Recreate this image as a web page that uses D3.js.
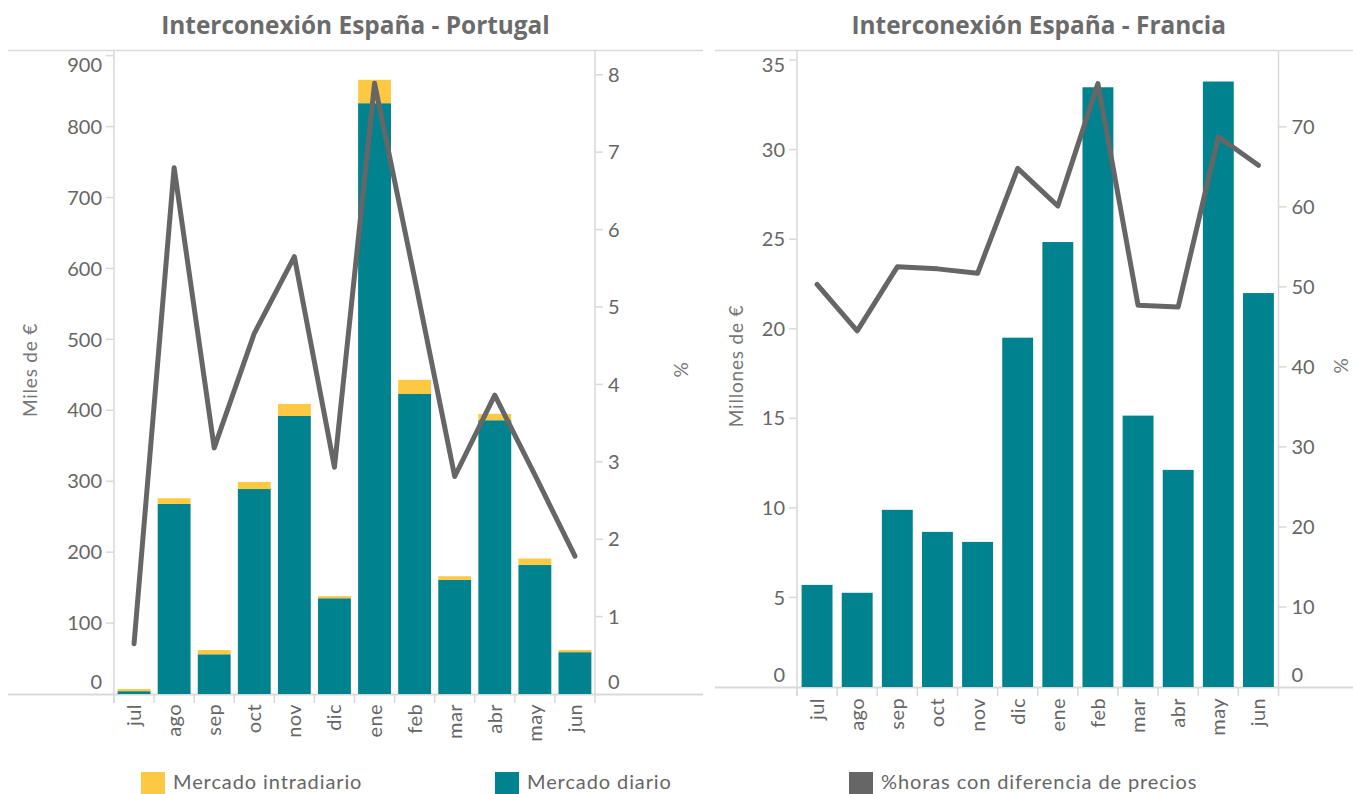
<!DOCTYPE html>
<html>
<head>
<meta charset="utf-8">
<script src="https://cdn.jsdelivr.net/npm/d3@7"></script>
<style>
  html, body { margin: 0; padding: 0; background: #fff; }
  svg { display: block; font-family: Lato, "Noto Sans", sans-serif; }
</style>
</head>
<body>
<svg id="chart" width="1353" height="794"></svg>
<script>
// Monthly categories (julio a junio)
const months = ["jul", "ago", "sep", "oct", "nov", "dic", "ene", "feb", "mar", "abr", "may", "jun"];

// España - Portugal: congestion rents in thousands of euros, and % of hours with price difference
const ptDiario = [4, 268, 56, 289, 392, 135, 833, 423, 161, 386, 182, 59];
const ptIntradiario = [3, 8, 6, 10, 17, 3, 33, 20, 5, 9, 9, 3];
const ptPct = [0.65, 6.8, 3.18, 4.66, 5.65, 2.93, 7.89, 5.37, 2.81, 3.86, 2.83, 1.78];

// España - Francia: congestion rents in millions of euros, and % of hours with price difference
const frDiario = [5.7, 5.26, 9.89, 8.66, 8.1, 19.5, 24.84, 33.48, 15.15, 12.12, 33.8, 21.99];
const frPct = [50.3, 44.5, 52.5, 52.25, 51.7, 64.8, 60.1, 75.4, 47.7, 47.5, 68.75, 65.2];

// Tick values for each axis
const ptLeftTicks = [0, 100, 200, 300, 400, 500, 600, 700, 800, 900];
const ptRightTicks = [0, 1, 2, 3, 4, 5, 6, 7, 8];
const frLeftTicks = [0, 5, 10, 15, 20, 25, 30, 35];
const frRightTicks = [0, 10, 20, 30, 40, 50, 60, 70];

const COLORS = {
  diario: "#00838f",
  intradiario: "#fdc943",
  line: "#666666",
  axis: "#d9d9d9",
  text: "#666666",
  title: "#6b6b6b"
};

const svg = d3.select("#chart");

function drawPanel(cfg) {
  const g = svg.append("g");
  const { x0, x1, yTop, yBase } = cfg;

  const x = d3.scaleBand()
    .domain(months)
    .range([x0, x1])
    .paddingInner(cfg.pad)
    .paddingOuter(cfg.pad / 2);

  const yL = d3.scaleLinear().domain([0, cfg.leftMax]).range([yBase, yTop]);
  const yR = d3.scaleLinear().domain([0, cfg.rightMax]).range([yBase, yTop]);

  // frame lines: top rule, baseline, both value axes
  g.append("line").attr("x1", cfg.frameL).attr("x2", cfg.frameR)
    .attr("y1", yTop + 0.5).attr("y2", yTop + 0.5)
    .attr("stroke", COLORS.axis).attr("stroke-width", 1.5);
  g.append("line").attr("x1", cfg.frameL).attr("x2", cfg.frameR)
    .attr("y1", yBase + 0.5).attr("y2", yBase + 0.5)
    .attr("stroke", COLORS.axis).attr("stroke-width", 2);
  [x0, x1].forEach(px => {
    g.append("line").attr("x1", px).attr("x2", px)
      .attr("y1", yTop).attr("y2", yBase + 9)
      .attr("stroke", COLORS.axis).attr("stroke-width", 1.5);
  });

  // category separators below the baseline
  const step = x.step();
  months.forEach((m, i) => {
    const px = x0 + i * step;
    g.append("line").attr("x1", px).attr("x2", px)
      .attr("y1", yBase).attr("y2", yBase + 9)
      .attr("stroke", COLORS.axis).attr("stroke-width", 1.5);
  });

  // month labels, rotated
  g.selectAll("text.month").data(months).join("text")
    .attr("class", "month")
    .attr("transform", d => `translate(${x(d) + x.bandwidth() / 2 + 7},${cfg.labelTop}) rotate(-90)`)
    .attr("text-anchor", "end")
    .attr("font-size", 20)
    .attr("letter-spacing", 0.4)
    .attr("fill", COLORS.text)
    .text(d => d);

  // value axis ticks and labels (labels kept inside the plot's vertical extent)
  const clamp = y => Math.max(yTop + 15, Math.min(yBase - 12.5, y));
  cfg.leftTicks.forEach(v => {
    const py = yL(v);
    if (v !== 0) {
      g.append("line").attr("x1", x0 - 8).attr("x2", x0)
        .attr("y1", py).attr("y2", py)
        .attr("stroke", COLORS.axis).attr("stroke-width", 1.5);
    }
    g.append("text").attr("x", x0 - 12).attr("y", clamp(py))
      .attr("dy", "0.36em").attr("text-anchor", "end")
      .attr("font-size", 20).attr("fill", COLORS.text)
      .text(v);
  });
  cfg.rightTicks.forEach(v => {
    const py = yR(v);
    if (v !== 0) {
      g.append("line").attr("x1", x1).attr("x2", x1 + 8)
        .attr("y1", py).attr("y2", py)
        .attr("stroke", COLORS.axis).attr("stroke-width", 1.5);
    }
    g.append("text").attr("x", x1 + 13).attr("y", clamp(py))
      .attr("dy", "0.36em").attr("text-anchor", "start")
      .attr("font-size", 20).attr("fill", COLORS.text)
      .text(v);
  });

  // axis titles
  g.append("text")
    .attr("transform", `translate(${cfg.leftTitleX},${cfg.titleY}) rotate(-90)`)
    .attr("text-anchor", "middle").attr("font-size", 19).attr("letter-spacing", 0.8)
    .attr("fill", "#777")
    .text(cfg.leftTitle);
  g.append("text")
    .attr("transform", `translate(${cfg.rightTitleX},${cfg.titleY}) rotate(-90)`)
    .attr("text-anchor", "middle").attr("font-size", 19).attr("fill", "#777")
    .text("%");

  // stacked bars: daily market at the bottom, intraday on top
  const rows = months.map((m, i) => ({
    m,
    diario: cfg.diario[i],
    intra: cfg.intra ? cfg.intra[i] : 0
  }));
  g.selectAll("rect.diario").data(rows).join("rect")
    .attr("class", "diario")
    .attr("x", d => x(d.m)).attr("width", x.bandwidth())
    .attr("y", d => yL(d.diario)).attr("height", d => yL(0) - yL(d.diario))
    .attr("fill", COLORS.diario);
  if (cfg.intra) {
    g.selectAll("rect.intra").data(rows).join("rect")
      .attr("class", "intra")
      .attr("x", d => x(d.m)).attr("width", x.bandwidth())
      .attr("y", d => yL(d.diario + d.intra)).attr("height", d => yL(d.diario) - yL(d.diario + d.intra))
      .attr("fill", COLORS.intradiario);
  }

  // % hours with price difference
  const line = d3.line()
    .x((d, i) => x(months[i]) + x.bandwidth() / 2)
    .y(d => yR(d));
  g.append("path").datum(cfg.pct)
    .attr("d", line)
    .attr("fill", "none")
    .attr("stroke", COLORS.line)
    .attr("stroke-width", 5)
    .attr("stroke-linejoin", "round")
    .attr("stroke-linecap", "round");

  // panel title
  svg.append("text")
    .attr("x", (x0 + x1) / 2 + 1).attr("y", 34)
    .attr("text-anchor", "middle")
    .attr("font-family", "'Open Sans', Lato, sans-serif")
    .attr("font-size", 24.4).attr("font-weight", "bold")
    .attr("fill", COLORS.title)
    .text(cfg.title);
}

drawPanel({
  title: "Interconexión España - Portugal",
  x0: 114, x1: 595, yTop: 50, yBase: 694,
  frameL: 8, frameR: 703,
  pad: 0.18,
  leftMax: 908, rightMax: 8.32,
  leftTicks: ptLeftTicks, rightTicks: ptRightTicks,
  diario: ptDiario, intra: ptIntradiario, pct: ptPct,
  leftTitle: "Miles de €", leftTitleX: 37, rightTitleX: 688, titleY: 370,
  labelTop: 704
});

drawPanel({
  title: "Interconexión España - Francia",
  x0: 797, x1: 1278.5, yTop: 50, yBase: 687,
  frameL: 715, frameR: 1353,
  pad: 0.23,
  leftMax: 35.56, rightMax: 79.6,
  leftTicks: frLeftTicks, rightTicks: frRightTicks,
  diario: frDiario, intra: null, pct: frPct,
  leftTitle: "Millones de €", leftTitleX: 743, rightTitleX: 1348, titleY: 366,
  labelTop: 698
});

// legend
const legendItems = [
  { label: "Mercado intradiario", color: COLORS.intradiario, x: 141 },
  { label: "Mercado diario", color: COLORS.diario, x: 495 },
  { label: "%horas con diferencia de precios", color: COLORS.line, x: 849 }
];
const lg = svg.append("g");
legendItems.forEach(it => {
  lg.append("rect").attr("x", it.x).attr("y", 772).attr("width", 24).attr("height", 22)
    .attr("fill", it.color);
  lg.append("text").attr("x", it.x + 32).attr("y", 789)
    .attr("font-size", 20).attr("letter-spacing", 0.9)
    .attr("fill", COLORS.text)
    .text(it.label);
});
</script>
</body>
</html>
